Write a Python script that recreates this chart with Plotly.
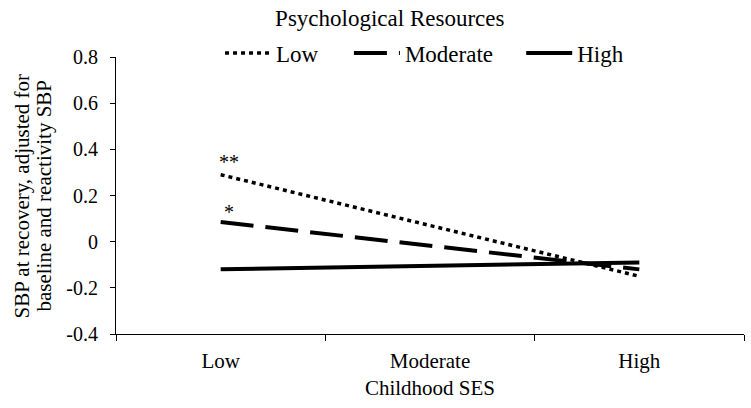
import plotly.graph_objects as go

# childhood SES categories (x axis)
ses_levels = ["Low", "Moderate", "High"]
ses_points = ["Low", "High"]

# SBP at recovery for each psychological resources group
low_resources = [0.29, -0.15]
moderate_resources = [0.085, -0.12]
high_resources = [-0.12, -0.09]

y_ticks = [-0.4, -0.2, 0, 0.2, 0.4, 0.6, 0.8]
y_tick_labels = ["-0.4", "-0.2", "0", "0.2", "0.4", "0.6", "0.8"]

y_title_lines = ["SBP at recovery, adjusted for", "baseline and reactivity SBP"]

FONT = "Liberation Serif, Times New Roman, serif"

fig = go.Figure()

fig.add_trace(go.Scatter(x=ses_points, y=low_resources, mode="lines", name="Low",
                         line=dict(color="black", width=3.5, dash="4px,4px"),
                         legend="legend"))
fig.add_trace(go.Scatter(x=ses_points, y=moderate_resources, mode="lines", name="Moderate",
                         line=dict(color="black", width=4, dash="33px,12px"),
                         legend="legend2"))
fig.add_trace(go.Scatter(x=ses_points, y=high_resources, mode="lines", name="High",
                         line=dict(color="black", width=4),
                         legend="legend3"))

# significance markers
fig.add_annotation(x="Low", y=low_resources[0], text="**", showarrow=False,
                   xshift=8, yshift=13, font=dict(size=20))
fig.add_annotation(x="Low", y=moderate_resources[0], text="*", showarrow=False,
                   xshift=8, yshift=10, font=dict(size=20))

# y axis title, two tight lines
for xpos, line in zip([-0.1497, -0.1162], y_title_lines):
    fig.add_annotation(xref="paper", yref="paper", x=xpos, y=0.5,
                       xanchor="center", yanchor="middle", text=line,
                       textangle=-90, showarrow=False, font=dict(size=21))

leg = dict(orientation="h", xref="container", yref="container",
           yanchor="middle", y=0.870, xanchor="left",
           font=dict(size=23, family=FONT, color="black"),
           bgcolor="rgba(0,0,0,0)", itemwidth=46)

fig.update_layout(
    width=751, height=408,
    margin=dict(l=116, r=7, t=57, b=74, autoexpand=False),
    paper_bgcolor="white", plot_bgcolor="white",
    font=dict(family=FONT, color="black", size=21),
    title=dict(text="Psychological Resources", x=0.519, xanchor="center",
               y=0.957, yanchor="middle", font=dict(size=23)),
    showlegend=True,
    legend=dict(leg, x=0.293),
    legend2=dict(leg, x=0.4646),
    legend3=dict(leg, x=0.694),
)

fig.update_xaxes(type="category", categoryorder="array", categoryarray=ses_levels,
                 range=[-0.5, 2.5], showline=True, linecolor="black", linewidth=1,
                 ticks="outside", tickson="boundaries", ticklen=6, tickcolor="black",
                 ticklabelstandoff=8, showgrid=False, zeroline=False, automargin=False,
                 tickfont=dict(size=21),
                 title=dict(text="Childhood SES", standoff=8, font=dict(size=21)))

fig.update_yaxes(range=[-0.4, 0.8], tickvals=y_ticks, ticktext=y_tick_labels,
                 showline=True, linecolor="black", linewidth=1,
                 ticks="outside", ticklen=5, tickcolor="black",
                 ticklabelstandoff=8, showgrid=False, zeroline=False, automargin=False,
                 tickfont=dict(size=20))

fig.write_html("out.html", config={"displayModeBar": False},
               post_script="document.body.style.margin='0';")
